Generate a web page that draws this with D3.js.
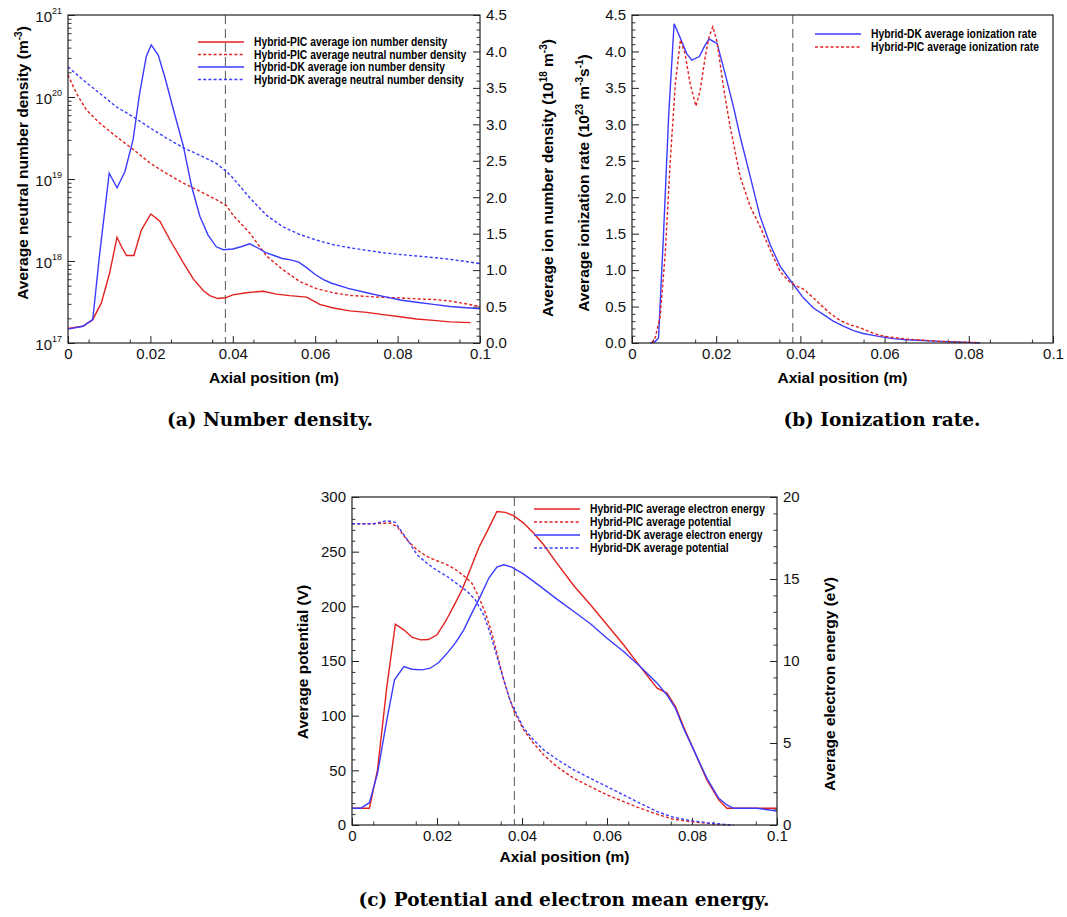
<!DOCTYPE html>
<html>
<head>
<meta charset="utf-8">
<script src="https://cdn.jsdelivr.net/npm/d3@7"></script>
<style>
  body { margin: 0; background: #fff; }
  svg { display: block; font-family: "Liberation Sans", Arial, sans-serif; }
</style>
</head>
<body>
<svg id="chart" width="1067" height="917"></svg>
<script>
// ---- data ----
// panel (a): ion density (10^18 m^-3, right axis), neutral density (m^-3, left log axis)
var ionPIC = [[0,0.20],[0.0036,0.23],[0.006,0.32],[0.0081,0.55],[0.0101,0.96],[0.0119,1.45],[0.013,1.32],[0.0142,1.20],
  [0.016,1.20],[0.0178,1.55],[0.0201,1.77],[0.0223,1.67],[0.0247,1.42],[0.028,1.10],[0.0304,0.88],[0.0328,0.72],
  [0.0344,0.65],[0.0364,0.61],[0.0382,0.62],[0.040,0.66],[0.0433,0.69],[0.0474,0.71],[0.0506,0.67],[0.0538,0.65],
  [0.0579,0.63],[0.0611,0.53],[0.0644,0.48],[0.0684,0.44],[0.0725,0.42],[0.0765,0.39],[0.0806,0.36],[0.0846,0.33],
  [0.0887,0.31],[0.0927,0.29],[0.0977,0.28]];
var ionDK = [[0,0.19],[0.0036,0.23],[0.006,0.32],[0.0077,1.23],[0.010,2.33],[0.0119,2.13],[0.0138,2.35],[0.0158,2.79],
  [0.0174,3.43],[0.019,3.93],[0.0202,4.09],[0.0219,3.95],[0.0235,3.65],[0.0255,3.22],[0.028,2.70],[0.030,2.15],
  [0.032,1.74],[0.034,1.48],[0.036,1.32],[0.0377,1.28],[0.040,1.29],[0.042,1.32],[0.0441,1.36],[0.0462,1.30],
  [0.048,1.24],[0.050,1.20],[0.052,1.16],[0.054,1.14],[0.056,1.11],[0.058,1.03],[0.060,0.94],[0.062,0.87],
  [0.064,0.82],[0.068,0.75],[0.0725,0.69],[0.0765,0.64],[0.0806,0.59],[0.0846,0.56],[0.0887,0.53],[0.0927,0.50],[0.1,0.47]];
var neutralPIC = [[0,1.86e20],[0.002,1.12e20],[0.0045,6.9e19],[0.0077,4.8e19],[0.0117,3.3e19],[0.0158,2.3e19],
  [0.02,1.55e19],[0.0239,1.17e19],[0.028,8.9e18],[0.032,7.1e18],[0.036,5.6e18],[0.0385,4.7e18],[0.0401,3.6e18],
  [0.0441,2.2e18],[0.0482,1.15e18],[0.0522,7.8e17],[0.0563,5.6e17],[0.0603,4.6e17],[0.0644,4.1e17],[0.0684,3.8e17],
  [0.0725,3.7e17],[0.0765,3.6e17],[0.0806,3.55e17],[0.0846,3.45e17],[0.0887,3.4e17],[0.0927,3.25e17],[0.1,2.8e17]];
var neutralDK = [[0,2.34e20],[0.0036,1.62e20],[0.0077,1.11e20],[0.0117,7.6e19],[0.0158,5.75e19],[0.02,4.17e19],
  [0.0239,3.16e19],[0.028,2.4e19],[0.032,1.95e19],[0.036,1.55e19],[0.0385,1.23e19],[0.0401,1.02e19],[0.0441,5.9e18],
  [0.0482,3.6e18],[0.0522,2.6e18],[0.0563,2.1e18],[0.0603,1.8e18],[0.0644,1.58e18],[0.0684,1.45e18],[0.0725,1.35e18],
  [0.0765,1.26e18],[0.0806,1.2e18],[0.0846,1.15e18],[0.0887,1.1e18],[0.0927,1.05e18],[0.1,9.3e17]];

// panel (b): ionization rate (10^23 m^-3 s^-1)
var rateDK = [[0.00435,0],[0.0055,0.02],[0.0063,0.07],[0.0075,1.51],[0.0087,3.11],[0.0100,4.38],[0.0115,4.18],
  [0.0130,3.97],[0.0142,3.88],[0.016,3.93],[0.0172,4.07],[0.0183,4.17],[0.0202,4.11],[0.0221,3.70],[0.0241,3.24],
  [0.0257,2.83],[0.0281,2.28],[0.0304,1.74],[0.0328,1.35],[0.0352,1.05],[0.0381,0.82],[0.0407,0.62],[0.0431,0.48],
  [0.0455,0.39],[0.0478,0.30],[0.0502,0.23],[0.0526,0.17],[0.0549,0.13],[0.0573,0.105],[0.0597,0.08],[0.062,0.06],
  [0.0652,0.045],[0.0692,0.035],[0.0731,0.023],[0.0771,0.014],[0.081,0.005],[0.0826,0]];
var ratePIC = [[0.0047,0],[0.0055,0.07],[0.0067,0.37],[0.0079,1.23],[0.0091,2.51],[0.0103,3.56],[0.0115,4.16],
  [0.0126,3.97],[0.0138,3.56],[0.0152,3.25],[0.0162,3.47],[0.0174,3.93],[0.0183,4.20],[0.0192,4.34],[0.0202,4.13],
  [0.0217,3.52],[0.0233,2.97],[0.0257,2.28],[0.0281,1.87],[0.0304,1.60],[0.0328,1.28],[0.0352,0.98],[0.0372,0.85],
  [0.0391,0.78],[0.0407,0.74],[0.0423,0.66],[0.0447,0.53],[0.047,0.41],[0.0494,0.31],[0.0518,0.25],[0.0542,0.21],
  [0.0565,0.15],[0.0589,0.105],[0.0613,0.08],[0.0652,0.055],[0.0692,0.037],[0.0731,0.023],[0.0771,0.014],[0.0826,0.005]];

// panel (c): electron energy (eV, right axis), potential (V, left axis)
var energyPIC = [[0,1.02],[0.0041,1.02],[0.006,3.36],[0.0082,8.44],[0.0102,12.25],[0.0122,11.9],[0.0141,11.45],
  [0.0161,11.29],[0.018,11.31],[0.02,11.6],[0.022,12.41],[0.0239,13.33],[0.0259,14.34],[0.0278,15.56],[0.0298,16.89],
  [0.0318,17.9],[0.0341,19.12],[0.0361,19.06],[0.038,18.86],[0.0404,18.41],[0.0427,17.8],[0.0451,17.09],[0.0482,15.97],
  [0.0522,14.59],[0.0561,13.43],[0.06,12.21],[0.0639,10.99],[0.0678,9.66],[0.0718,8.34],[0.0741,8.04],[0.0761,7.22],
  [0.078,6.0],[0.0804,4.58],[0.0835,2.75],[0.0863,1.53],[0.0882,1.02],[0.0953,1.02],[0.1,1.02]];
var energyDK = [[0,1.02],[0.002,1.02],[0.0041,1.36],[0.006,3.15],[0.0082,6.41],[0.01,8.85],[0.0122,9.66],[0.0141,9.5],
  [0.0165,9.46],[0.0184,9.56],[0.0204,9.91],[0.0224,10.48],[0.0243,11.09],[0.0263,11.9],[0.0282,12.92],[0.0302,13.94],
  [0.0322,15.06],[0.0341,15.73],[0.0357,15.87],[0.0376,15.73],[0.0404,15.3],[0.0443,14.55],[0.0482,13.77],[0.0522,13.02],
  [0.0561,12.27],[0.06,11.39],[0.0639,10.58],[0.0678,9.66],[0.0718,8.65],[0.0741,7.93],[0.0761,7.12],[0.078,5.9],
  [0.0804,4.58],[0.0835,2.85],[0.0863,1.63],[0.0882,1.22],[0.0898,1.02],[0.0953,1.02],[0.1,0.85]];
var potentialPIC = [[0,275.6],[0.0051,275.6],[0.009,276.2],[0.0106,273.1],[0.0129,260.9],[0.0153,251.7],[0.0176,245.6],
  [0.02,241.7],[0.0224,238],[0.0247,232.8],[0.0267,226.7],[0.0282,221.2],[0.0298,209],[0.0314,193.8],[0.0329,175.5],
  [0.0345,151],[0.0357,132.7],[0.0369,117.5],[0.038,105.3],[0.0404,87],[0.0427,74.8],[0.0451,64.1],[0.0482,53.4],
  [0.0522,42.7],[0.0561,35.1],[0.06,27.5],[0.0639,21.4],[0.0678,15.3],[0.0718,9.8],[0.0757,5.2],[0.0796,3.1],
  [0.0835,1.5],[0.0875,0.3],[0.089,0]];
var potentialDK = [[0,275.6],[0.0051,275.6],[0.0082,278.3],[0.0102,276.8],[0.0114,270],[0.0133,259.4],[0.0153,247.2],
  [0.0176,239.5],[0.02,232.8],[0.0224,227.3],[0.0247,220.6],[0.0271,213.6],[0.029,206],[0.031,192.2],[0.0325,175.5],
  [0.0341,154.1],[0.0357,132.7],[0.0373,112.9],[0.0388,100.7],[0.0404,88.5],[0.0427,77.8],[0.0451,68.7],[0.0482,60.1],
  [0.0522,50.4],[0.0561,42.7],[0.06,35.1],[0.0639,27.5],[0.0678,19.8],[0.0718,12.2],[0.0757,7.0],[0.0796,4.0],
  [0.0835,2.1],[0.0875,0.6],[0.0898,0]];

var xTicks = [0, 0.02, 0.04, 0.06, 0.08, 0.1];
var markerX = 0.0382;   // vertical dashed marker

var legendA = ["Hybrid-PIC average ion number density", "Hybrid-PIC average neutral number density",
  "Hybrid-DK average ion number density", "Hybrid-DK average neutral number density"];
var legendB = ["Hybrid-DK average ionization rate", "Hybrid-PIC average ionization rate"];
var legendC = ["Hybrid-PIC average electron energy", "Hybrid-PIC average potential",
  "Hybrid-DK average electron energy", "Hybrid-DK average potential"];

var RED = "#e3211f", BLUE = "#3b3bff", DASH = "3,2.2";

var svg = d3.select("#chart");

function title(g, x, y, rot, parts) {
  var t = g.append("text").attr("transform", "translate(" + x + "," + y + ")" + (rot ? " rotate(-90)" : ""))
    .attr("text-anchor", "middle").attr("font-weight", "bold").attr("font-size", 15.5);
  var sup = false;
  parts.forEach(function(p) {
    var s = t.append("tspan").text(p[0]);
    if (p[1]) { s.attr("font-size", 10).attr("dy", sup ? 0 : -6.5); sup = true; }
    else if (sup) { s.attr("dy", 6.5); sup = false; }
  });
}
function minorAxis(g, axisFn, scale, vals, tx, ty) {
  g.append("g").attr("transform", "translate(" + tx + "," + ty + ")")
    .call(axisFn(scale).tickValues(vals).tickSize(-3.5).tickFormat(""))
    .call(function(a) { a.select(".domain").remove(); a.selectAll("line").attr("stroke", "#333"); });
}
function styleAxis(a) {
  a.select(".domain").remove();
  a.selectAll("line").attr("stroke", "#222");
  a.selectAll("text").attr("font-size", 15).attr("fill", "#111").attr("font-family", "Liberation Sans, Arial");
}

function panelFrame(g, x, w, h, xTitleY) {
  g.append("g").attr("transform", "translate(0," + h + ")")
    .call(d3.axisBottom(x).tickValues(xTicks).tickSize(-7).tickPadding(5)
      .tickFormat(function(d) { return d === 0 ? "0" : d3.format(".2~f")(d); }))
    .call(styleAxis);
  minorAxis(g, d3.axisBottom, x, d3.range(0.005, 0.1, 0.01), 0, h);
  g.append("line").attr("x1", x(markerX)).attr("x2", x(markerX)).attr("y1", 0).attr("y2", h)
    .attr("stroke", "#555").attr("stroke-width", 1).attr("stroke-dasharray", "9,5");
  g.append("text").attr("x", w / 2).attr("y", xTitleY).attr("text-anchor", "middle")
    .attr("font-weight", "bold").attr("font-size", 15.5).text("Axial position (m)");
}
function border(g, w, h) {
  g.append("rect").attr("width", w).attr("height", h).attr("fill", "none").attr("stroke", "#222").attr("stroke-width", 1.2);
}
function drawLine(g, data, x, y, color, dashed) {
  g.append("path").datum(data).attr("fill", "none").attr("stroke", color).attr("stroke-width", 1.4)
    .attr("stroke-dasharray", dashed ? DASH : null)
    .attr("d", d3.line().x(function(d) { return x(d[0]); }).y(function(d) { return y(d[1]); }));
}
// legend text in the figure is a condensed bold face; squeeze the installed one horizontally
function legend(g, lx, ly, step, labels, styles) {
  labels.forEach(function(lab, i) {
    var yy = ly + i * step;
    g.append("line").attr("x1", lx).attr("x2", lx + 46).attr("y1", yy).attr("y2", yy)
      .attr("stroke", styles[i][0]).attr("stroke-width", 1.4).attr("stroke-dasharray", styles[i][1] ? DASH : null);
    g.append("text").attr("transform", "translate(" + (lx + 56) + "," + (yy + 4) + ") scale(0.86,1)")
      .attr("font-size", 12).attr("font-weight", "bold").text(lab);
  });
}

// ---------- panel (a) ----------
(function() {
  var L = 68, T = 15, W = 412, H = 328;
  var g = svg.append("g").attr("transform", "translate(" + L + "," + T + ")");
  var x = d3.scaleLinear().domain([0, 0.1]).range([0, W]);
  var yLog = d3.scaleLog().domain([1e17, 1e21]).range([H, 0]);
  var yIon = d3.scaleLinear().domain([0, 4.5]).range([H, 0]);

  var decades = [1e17, 1e18, 1e19, 1e20, 1e21];
  g.append("g").call(d3.axisLeft(yLog).tickValues(decades).tickSize(-7).tickPadding(6))
    .call(styleAxis)
    .call(function(a) {
      a.selectAll("text").each(function(d) {
        var t = d3.select(this).text(null).attr("dy", "0.45em");
        t.append("tspan").text("10");
        t.append("tspan").attr("font-size", 9).attr("dy", -8).text(Math.round(Math.log10(d)));
      });
    });
  var minors = [];
  [17, 18, 19, 20].forEach(function(e) { for (var k = 2; k <= 9; k++) minors.push(k * Math.pow(10, e)); });
  minorAxis(g, d3.axisLeft, yLog, minors, 0, 0);

  g.append("g").attr("transform", "translate(" + W + ",0)")
    .call(d3.axisRight(yIon).tickValues(d3.range(0, 4.51, 0.5)).tickSize(-7).tickPadding(6).tickFormat(d3.format(".1f")))
    .call(styleAxis);
  minorAxis(g, d3.axisRight, yIon, d3.range(0, 4.5, 0.1).filter(function(v) { return Math.abs(v * 2 - Math.round(v * 2)) > 1e-6; }), W, 0);

  panelFrame(g, x, W, H, 368);
  drawLine(g, ionPIC, x, yIon, RED, false);
  drawLine(g, neutralPIC, x, yLog, RED, true);
  drawLine(g, ionDK, x, yIon, BLUE, false);
  drawLine(g, neutralDK, x, yLog, BLUE, true);
  border(g, W, H);

  legend(svg, 198, 42, 12.5, legendA, [[RED, 0], [RED, 1], [BLUE, 0], [BLUE, 1]]);
  title(svg, 28, 163, true, [["Average neutral number density (m"], ["-3", 1], [")"]]);
  title(svg, 553, 178, true, [["Average ion number density (10"], ["18", 1], [" m"], ["-3", 1], [")"]]);
})();

// ---------- panel (b) ----------
(function() {
  var L = 632, T = 15, W = 421, H = 328;
  var g = svg.append("g").attr("transform", "translate(" + L + "," + T + ")");
  var x = d3.scaleLinear().domain([0, 0.1]).range([0, W]);
  var y = d3.scaleLinear().domain([0, 4.5]).range([H, 0]);

  g.append("g").call(d3.axisLeft(y).tickValues(d3.range(0, 4.51, 0.5)).tickSize(-7).tickPadding(6).tickFormat(d3.format(".1f")))
    .call(styleAxis);
  minorAxis(g, d3.axisLeft, y, d3.range(0, 4.5, 0.1).filter(function(v) { return Math.abs(v * 2 - Math.round(v * 2)) > 1e-6; }), 0, 0);

  panelFrame(g, x, W, H, 368);
  drawLine(g, rateDK, x, y, BLUE, false);
  drawLine(g, ratePIC, x, y, RED, true);
  border(g, W, H);

  legend(svg, 815, 34, 13, legendB, [[BLUE, 0], [RED, 1]]);
  title(svg, 589, 183, true, [["Average ionization rate (10"], ["23", 1], [" m"], ["-3", 1], ["s"], ["-1", 1], [")"]]);
})();

// ---------- panel (c) ----------
(function() {
  var L = 352, T = 497, W = 425, H = 328;
  var g = svg.append("g").attr("transform", "translate(" + L + "," + T + ")");
  var x = d3.scaleLinear().domain([0, 0.1]).range([0, W]);
  var yV = d3.scaleLinear().domain([0, 300]).range([H, 0]);
  var yE = d3.scaleLinear().domain([0, 20]).range([H, 0]);

  g.append("g").call(d3.axisLeft(yV).tickValues(d3.range(0, 301, 50)).tickSize(-7).tickPadding(6))
    .call(styleAxis);
  minorAxis(g, d3.axisLeft, yV, d3.range(10, 300, 10).filter(function(v) { return v % 50; }), 0, 0);
  g.append("g").attr("transform", "translate(" + W + ",0)")
    .call(d3.axisRight(yE).tickValues(d3.range(0, 21, 5)).tickSize(-7).tickPadding(6))
    .call(styleAxis);
  minorAxis(g, d3.axisRight, yE, d3.range(1, 20, 1).filter(function(v) { return v % 5; }), W, 0);

  panelFrame(g, x, W, H, 365);
  drawLine(g, energyPIC, x, yE, RED, false);
  drawLine(g, potentialPIC, x, yV, RED, true);
  drawLine(g, energyDK, x, yE, BLUE, false);
  drawLine(g, potentialDK, x, yV, BLUE, true);
  border(g, W, H);

  legend(svg, 534, 509, 13, legendC, [[RED, 0], [RED, 1], [BLUE, 0], [BLUE, 1]]);
  title(svg, 308, 662, true, [["Average potential (V)"]]);
  title(svg, 835, 684, true, [["Average electron energy (eV)"]]);
})();

// captions
var captions = [["(a) Number density.", 270, 426], ["(b) Ionization rate.", 882, 426],
  ["(c) Potential and electron mean energy.", 564, 906]];
svg.selectAll("text.caption").data(captions).join("text").attr("class", "caption")
  .attr("x", function(d) { return d[1]; }).attr("y", function(d) { return d[2]; })
  .attr("text-anchor", "middle").attr("font-family", "'DejaVu Serif', serif").attr("font-weight", "bold")
  .attr("font-size", 18.5).text(function(d) { return d[0]; });
</script>
</body>
</html>
